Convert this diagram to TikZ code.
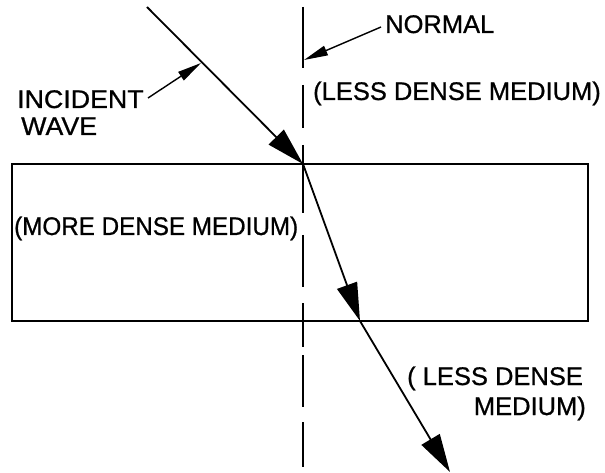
\documentclass[tikz,border=0pt]{standalone}
\usepackage{fontspec}
\setmainfont[FakeBold=0.8]{Liberation Sans}
\usetikzlibrary{arrows.meta}
\tikzset{
  ray/.style={line width=1.8pt, -{Triangle[length=38pt,width=21pt]}},
  leader/.style={line width=1.4pt, -{Triangle[length=24pt,width=10pt]}},
  normalseg/.style={line width=1.8pt},
  slab/.style={line width=1.8pt},
  lbl/.style={inner sep=0pt, font=\fontsize{25.5}{30}\selectfont},
}
\begin{document}
\begin{tikzpicture}[x=1pt,y=-1pt]
\useasboundingbox (0,0) rectangle (605,473);
% slab
\draw[slab] (12,164) rectangle (588,321);
% normal
\foreach \a/\b in {7/68,85/128,145/213,235/287,303/347,355/407,422/467}
  \draw[normalseg] (303,\a) -- (303,\b);
% rays
\coordinate (S) at (147,7);
\coordinate (O) at (303,164);
\coordinate (B) at (360,321);
\coordinate (T) at (450,472);
\draw[ray] (S) -- (O);
\draw[ray] (O) -- (B);
\draw[ray] (B) -- (T);
% labels
\node[lbl, anchor=base west] (nrm) at (385,33) {NORMAL};
\coordinate (nrmtip) at (304,60);
\coordinate (nl) at (381,27);
\draw[leader] (nl) -- (nrmtip);
\node[lbl, anchor=base west, xscale=1.05] (inc) at (17,108) {INCIDENT};
\node[lbl, anchor=base west, xscale=1.05] (wave) at (21,135) {WAVE};
\coordinate (inctip) at (201,63);
\coordinate (il) at (148,98);
\draw[leader] (il) -- (inctip);
\node[lbl, anchor=base east] (less1) at (601,100) {(LESS DENSE MEDIUM)};
\node[lbl, anchor=base west, xscale=0.95] (more) at (14,235) {(MORE DENSE MEDIUM)};
\node[lbl, anchor=base west] (less2) at (407,385) {( LESS DENSE};
\node[lbl, anchor=base east] (less3) at (586,415) {MEDIUM)};
\end{tikzpicture}
\end{document}
